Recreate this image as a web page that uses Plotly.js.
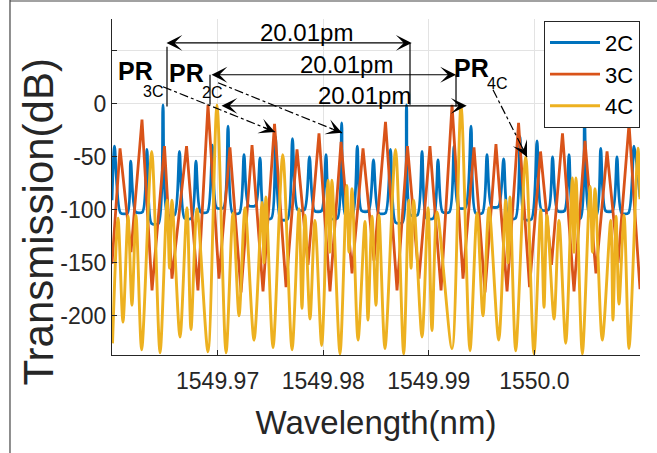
<!DOCTYPE html>
<html><head><meta charset="utf-8">
<script src="https://cdn.plot.ly/plotly-3.0.1.min.js"></script>
<style>html,body{margin:0;padding:0;background:#fff;} #chart{width:657px;height:453px;}</style>
</head><body><div id="chart"></div>
<script>
// ---- data ----
const seriesNames = ['2C', '3C', '4C'];

// 2C: each resonance peak, with the broad trough between peaks read at its two shoulders
const wl2C = [1549.96000,1549.96024,
  1549.96081,1549.96147,1549.96177,1549.96223,1549.96289,1549.96331,1549.96374,1549.96440,1549.96483,
  1549.96526,1549.96592,1549.96639,1549.96687,1549.96753,1549.96795,1549.96838,1549.96904,1549.96950,
  1549.96990,1549.97056,1549.97099,1549.97141,1549.97207,1549.97250,1549.97293,1549.97359,1549.97402,
  1549.97444,1549.97510,1549.97548,1549.97596,1549.97662,1549.97709,1549.97757,1549.97823,1549.97870,
  1549.97918,1549.97984,1549.98027,1549.98069,1549.98135,1549.98175,1549.98211,1549.98277,1549.98323,
  1549.98363,1549.98429,1549.98476,1549.98524,1549.98590,1549.98637,1549.98685,1549.98751,1549.98789,
  1549.98827,1549.98893,1549.98936,1549.98978,1549.99044,1549.99087,1549.99130,1549.99196,1549.99239,
  1549.99281,1549.99347,1549.99400,1549.99442,1549.99508,1549.99551,1549.99594,1549.99660,1549.99709,
  1549.99755,1549.99821,1549.99864,1549.99906,1549.99972,1550.00025,1550.00067,1550.00133,1550.00172,
  1550.00219,1550.00285,1550.00328,1550.00371,1550.00437,1550.00475,1550.00522,1550.00588,1550.00628,
  1550.00674,1550.00740,1550.00782,1550.00825,1550.00891,1550.00943,1550.01000];
const tr2C = [-91,-40,
  -103,-103,-54,-102,-102,-43,-113,-113,-1,
  -105,-105,-45,-108,-108,-54,-102,-102,-39,
  -98,-98,-21,-103,-103,-48,-96,-96,-51,
  -108,-108,-31,-109,-109,-33,-100,-100,-50,
  -101,-101,-48,-108,-108,-18,-105,-105,-40,
  -101,-101,-53,-103,-103,-43,-112,-112,-1,
  -105,-105,-45,-108,-108,-53,-102,-102,-40,
  -98,-98,-21,-103,-103,-48,-97,-97,-52,
  -108,-108,-31,-109,-109,-35,-100,-100,-50,
  -101,-101,-48,-108,-108,-18,-105,-105,-42,
  -101,-101,-50,-103,-103,-40,-88];

const wl3C = [1549.96000,1549.96076,1549.96180,1549.96284,1549.96379,1549.96497,1549.96568,1549.96706,1549.96814,1549.96909,
  1549.97013,1549.97117,1549.97222,1549.97326,1549.97430,1549.97539,1549.97648,1549.97752,1549.97856,1549.97960,
  1549.98064,1549.98169,1549.98273,1549.98377,1549.98481,1549.98590,1549.98699,1549.98798,1549.98907,1549.99011,
  1549.99116,1549.99220,1549.99324,1549.99428,1549.99532,1549.99636,1549.99741,1549.99850,1549.99954,1550.00058,
  1550.00162,1550.00266,1550.00375,1550.00479,1550.00583,1550.00688,1550.00792,1550.00896,1550.01000];
const tr3C = [-151,-42,-140,-15,-176,-40,-165,-40,-176,-1,
  -165,-41,-178,-39,-177,-19,-173,-43,-152,-28,
  -177,-36,-160,-42,-148,-17,-176,-40,-165,-40,
  -176,-1,-165,-41,-178,-38,-177,-18,-173,-45,
  -152,-28,-177,-35,-160,-45,-150,-19,-175];

const wl4C = [1549.96005,1549.96057,1549.96104,1549.96152,1549.96189,1549.96227,1549.96281,1549.96376,1549.96455,1549.96521,
  1549.96545,1549.96568,1549.96644,1549.96710,1549.96748,1549.96805,1549.96909,1549.96994,1549.97080,1549.97146,
  1549.97203,1549.97260,1549.97345,1549.97421,1549.97439,1549.97458,1549.97525,1549.97617,1549.97705,1549.97771,
  1549.97799,1549.97828,1549.97875,1549.97922,1549.97986,1549.98046,1549.98064,1549.98083,1549.98159,1549.98223,
  1549.98244,1549.98273,1549.98330,1549.98396,1549.98424,1549.98462,1549.98500,1549.98528,1549.98585,1549.98685,
  1549.98762,1549.98810,1549.98832,1549.98857,1549.98936,1549.98993,1549.99030,1549.99078,1549.99220,1549.99305,
  1549.99390,1549.99457,1549.99513,1549.99570,1549.99662,1549.99728,1549.99750,1549.99769,1549.99823,1549.99918,
  1549.99996,1550.00060,1550.00091,1550.00119,1550.00186,1550.00233,1550.00297,1550.00359,1550.00375,1550.00394,
  1550.00454,1550.00527,1550.00550,1550.00574,1550.00643,1550.00723,1550.00744,1550.00773,1550.00801,1550.00849,
  1550.00896,1550.00981,1550.01000];
const tr4C = [-226,-108,-206,-106,-190,-105,-232,-45,-235,-91,
  -155,-91,-220,-98,-213,-99,-234,-1,-235,-103,
  -200,-98,-223,-93,-150,-88,-230,-48,-232,-99,
  -193,-105,-203,-110,-228,-72,-140,-72,-236,-77,
  -140,-80,-223,-111,-204,-106,-190,-105,-231,-43,
  -236,-91,-155,-91,-220,-98,-214,-102,-231,-1,
  -233,-103,-200,-98,-223,-91,-150,-88,-233,-50,
  -236,-100,-192,-105,-203,-110,-226,-70,-140,-70,
  -236,-78,-140,-80,-223,-110,-204,-106,-189,-105,
  -231,-42,-90];

const xTickVals = [1549.96, 1549.97, 1549.98, 1549.99, 1550.00, 1550.01];
const xTickText = ['', '1549.97', '1549.98', '1549.99', '1550.0', ''];
const yTickVals = [-200, -150, -100, -50, 0, 50];
const yTickText = ['-200', '-150', '-100', '-50', '0', ''];

const spacingLabel = '20.01pm';

// ---- figure ----
const colors = ['#0072BD', '#D95319', '#EDB120'];
const FONT = 'Liberation Sans, Arial, Helvetica, sans-serif';

const traces = [
  {x: wl2C, y: tr2C, name: seriesNames[0], type: 'scatter', mode: 'lines',
   line: {color: colors[0], width: 2.8, shape: 'spline', smoothing: 0.7}},
  {x: wl3C, y: tr3C, name: seriesNames[1], type: 'scatter', mode: 'lines',
   line: {color: colors[1], width: 2.8, shape: 'linear'}},
  {x: wl4C, y: tr4C, name: seriesNames[2], type: 'scatter', mode: 'lines',
   line: {color: colors[2], width: 2.9, shape: 'spline', smoothing: 0.8}}
];

const blk = '#000000';
function vline(x, y0, y1) {
  return {type: 'line', xref: 'x', yref: 'y', x0: x, x1: x, y0: y0, y1: y1,
          line: {color: blk, width: 1.2}};
}
function dline(x0, y0, x1, y1) {
  return {type: 'line', xref: 'x', yref: 'y', x0: x0, x1: x1, y0: y0, y1: y1,
          line: {color: blk, width: 1.2, dash: 'dashdot'}};
}
const shapes = [
  vline(1549.965208, 53.9, -2.6),
  vline(1549.988220, 57.4, -0.9),
  vline(1549.969281, 27.4, -0.9),
  vline(1549.992577, 27.4, -2.6),
  dline(1549.964830, 16.1, 1549.975436, -26.5),
  dline(1549.970038, 19.8, 1549.981781, -27.4),
  dline(1549.996080, 13.2, 1549.999300, -50.1),
  // figure frame (top and left edges)
  {type: 'line', xref: 'paper', yref: 'paper', x0: -0.1932, x1: 1.04, y0: 1.0536, y1: 1.0536,
   line: {color: '#444444', width: 1.2}},
  {type: 'line', xref: 'paper', yref: 'paper', x0: -0.1932, x1: -0.1932, y0: -0.3, y1: 1.06,
   line: {color: '#444444', width: 1.2}}
];

function harrow(xr, xl, y) {
  return {x: xr, y: y, ax: xl, ay: y, xref: 'x', yref: 'y', axref: 'x', ayref: 'y',
          text: '', showarrow: true, arrowside: 'end+start', arrowhead: 3, startarrowhead: 3,
          arrowsize: 2.2, startarrowsize: 2.2, arrowwidth: 1.2, arrowcolor: blk, standoff: 0, startstandoff: 0};
}
function head(x, y, ax, ay) {
  return {x: x, y: y, ax: ax, ay: ay, xref: 'x', yref: 'y', text: '', showarrow: true,
          arrowhead: 3, arrowsize: 2.2, arrowwidth: 1.2, arrowcolor: blk, standoff: 0};
}
function label(x, y, txt, size, bold) {
  return {x: x, y: y, xref: 'x', yref: 'y', text: bold ? '<b>' + txt + '</b>' : txt,
          showarrow: false, xanchor: 'center', yanchor: 'middle',
          font: {family: FONT, size: size, color: blk}};
}
const annotations = [
  harrow(1549.988382, 1549.965019, 57.4),
  harrow(1549.992577, 1549.969281, 27.4),
  harrow(1549.993590, 1549.970228, -1.9),
  label(1549.978372, 66.8, spacingLabel, 24, false),
  label(1549.982226, 36.9, spacingLabel, 24, false),
  label(1549.983864, 8.0, spacingLabel, 24, false),
  label(1549.962225, 30.5, 'PR', 25, true),
  label(1549.963900, 11.8, '3C', 16, false),
  label(1549.967008, 28.6, 'PR', 25, true),
  label(1549.969450, 10.8, '2C', 16, false),
  label(1549.994064, 33.8, 'PR', 25, true),
  label(1549.996500, 18.8, '4C', 16, false),
  head(1549.975436, -26.5, -13, -5.2),
  head(1549.981781, -27.4, -13, -5.2),
  head(1549.999300, -50.1, -6.3, -12.5),
  {x: -0.139, y: 0.396, xref: 'paper', yref: 'paper', text: 'Transmission(dB)', textangle: -90,
   showarrow: false, xanchor: 'center', yanchor: 'middle',
   font: {family: FONT, size: 42, color: '#262626'}}
];

const axisCommon = {
  ticks: 'inside', ticklen: 5, tickwidth: 1, tickcolor: '#262626',
  showline: true, linecolor: '#262626', linewidth: 1, mirror: false,
  showgrid: true, gridcolor: '#E3E3E3', gridwidth: 1, zeroline: false,
  tickfont: {family: FONT, size: 23, color: '#262626'}, automargin: false
};

const layout = {
  width: 657, height: 453,
  margin: {l: 112, r: 17, t: 19, b: 98, pad: 0},
  paper_bgcolor: '#ffffff', plot_bgcolor: '#ffffff',
  font: {family: FONT, color: '#262626'},
  xaxis: Object.assign({}, axisCommon, {
    range: [1549.96, 1550.01], tickmode: 'array', tickvals: xTickVals, ticktext: xTickText,
    ticklabelstandoff: 5,
    title: {text: 'Wavelength(nm)', font: {family: FONT, size: 33, color: '#262626'}, standoff: 18}
  }),
  yaxis: Object.assign({}, axisCommon, {
    range: [-237, 80], tickmode: 'array', tickvals: yTickVals, ticktext: yTickText
  }),
  showlegend: true,
  legend: {x: 1, xanchor: 'right', y: 0.995, yanchor: 'top', bgcolor: '#ffffff',
           bordercolor: '#262626', borderwidth: 1, font: {family: FONT, size: 22, color: '#000000'},
           itemwidth: 50, tracegroupgap: 0},
  shapes: shapes,
  annotations: annotations
};

Plotly.newPlot('chart', traces, layout, {staticPlot: true, displayModeBar: false});
</script>
</body></html>
